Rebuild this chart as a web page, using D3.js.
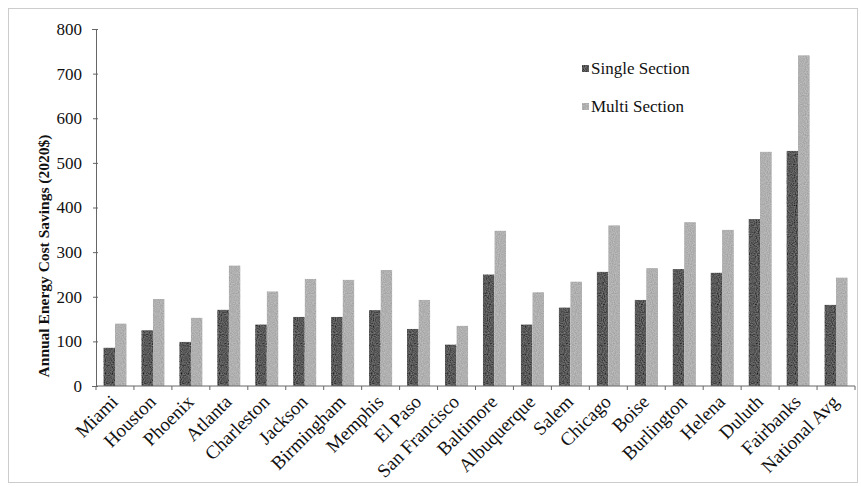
<!DOCTYPE html>
<html><head><meta charset="utf-8">
<script src="https://cdn.jsdelivr.net/npm/d3@7"></script>
<style>body{margin:0;background:#fff}svg{display:block}text{font-family:"Liberation Serif","Times New Roman",serif;fill:#111}</style>
</head><body>
<script>
const cities = ["Miami","Houston","Phoenix","Atlanta","Charleston","Jackson","Birmingham","Memphis","El Paso","San Francisco","Baltimore","Albuquerque","Salem","Chicago","Boise","Burlington","Helena","Duluth","Fairbanks","National Avg"];
const singleSection = [86,125,99,171,138,155,155,170,128,93,250,138,176,256,193,262,254,374,527,182];
const multiSection = [140,195,153,270,212,240,238,260,193,135,348,210,234,360,264,367,350,525,741,243];
const seriesNames = ["Single Section","Multi Section"];
const yTicks = [0,100,200,300,400,500,600,700,800];
const colors = ["#595959","#b0b0b0"];

const W=861,H=487;
const svg=d3.select("body").append("svg").attr("width",W).attr("height",H);
const defs=svg.append("defs");
const f=defs.append("filter").attr("id","grain").attr("x",0).attr("y",0).attr("width",1).attr("height",1);
f.append("feTurbulence").attr("type","fractalNoise").attr("baseFrequency",0.9).attr("numOctaves",1).attr("seed",3).attr("result","n");
f.append("feColorMatrix").attr("in","n").attr("type","matrix")
  .attr("values","1 0 0 0 0  1 0 0 0 0  1 0 0 0 0  0 0 0 0 1").attr("result","g");
f.append("feComposite").attr("in","SourceGraphic").attr("in2","g").attr("operator","arithmetic")
  .attr("k1",0).attr("k2",1).attr("k3",0.3).attr("k4",-0.15).attr("result","m");
f.append("feComposite").attr("in","m").attr("in2","SourceGraphic").attr("operator","in");

svg.append("rect").attr("x",8.5).attr("y",8.5).attr("width",W-12).attr("height",H-13)
  .attr("fill","none").attr("stroke","#999").attr("stroke-dasharray","1,1");

const x0=96,x1=855,yb=386,yt=29;
const x=d3.scaleBand().domain(cities).range([x0,x1]).paddingInner(0.39).paddingOuter(0.195);
const xs=d3.scaleBand().domain(seriesNames).range([0,x.bandwidth()]);
const y=d3.scaleLinear().domain([0,800]).range([yb,yt]);

const g=svg.append("g");
const data=cities.map((c,i)=>({c,v:[singleSection[i],multiSection[i]]}));
const grp=g.selectAll("g.c").data(data).join("g").attr("transform",d=>`translate(${x(d.c)},0)`);
grp.selectAll("rect").data(d=>d.v.map((v,k)=>({v,k}))).join("rect")
  .attr("x",d=>xs(seriesNames[d.k])).attr("width",xs.bandwidth())
  .attr("y",d=>y(d.v)).attr("height",d=>yb-y(d.v)).attr("fill",d=>colors[d.k])
  .attr("filter","url(#grain)");

// y axis
const ya=svg.append("g").attr("transform",`translate(${x0},0)`)
  .call(d3.axisLeft(y).tickValues(yTicks).tickSize(4).tickPadding(10));
ya.select(".domain").attr("stroke","#666");
ya.selectAll(".tick line").attr("stroke","#666").attr("x2",-3).attr("x1",2);
ya.selectAll("text").style("font-size","17px").style("font-family",'"Liberation Serif",serif').attr("fill","#111");

// x axis with ticks at band boundaries
const xa=svg.append("g").attr("transform",`translate(0,${yb})`);
xa.append("line").attr("x1",x0).attr("x2",x1).attr("stroke","#666");
const step=x.step();
d3.range(cities.length+1).forEach(i=>{
  const xx=x0+i*step;
  xa.append("line").attr("x1",xx).attr("x2",xx).attr("y1",0).attr("y2",4).attr("stroke","#666");
});
xa.selectAll("text.lab").data(cities).join("text").attr("class","lab")
  .attr("transform",d=>`translate(${x(d)+x.bandwidth()/2+4},${17}) rotate(-45)`)
  .attr("text-anchor","end").style("font-size","19px").text(d=>d);

// y label
svg.append("text").attr("transform",`translate(49,256) rotate(-90)`)
  .attr("text-anchor","middle").style("font-size","15.5px").style("font-weight","bold")
  .text("Annual Energy Cost Savings (2020$)");

// legend
const lg=svg.append("g");
seriesNames.forEach((n,i)=>{
  const yy=69+i*38;
  lg.append("rect").attr("x",582).attr("y",yy-4).attr("width",7).attr("height",7).attr("fill",colors[i]).attr("filter","url(#grain)");
  lg.append("text").attr("x",591).attr("y",yy+5).style("font-size","17px").text(n);
});
</script>
</body></html>
